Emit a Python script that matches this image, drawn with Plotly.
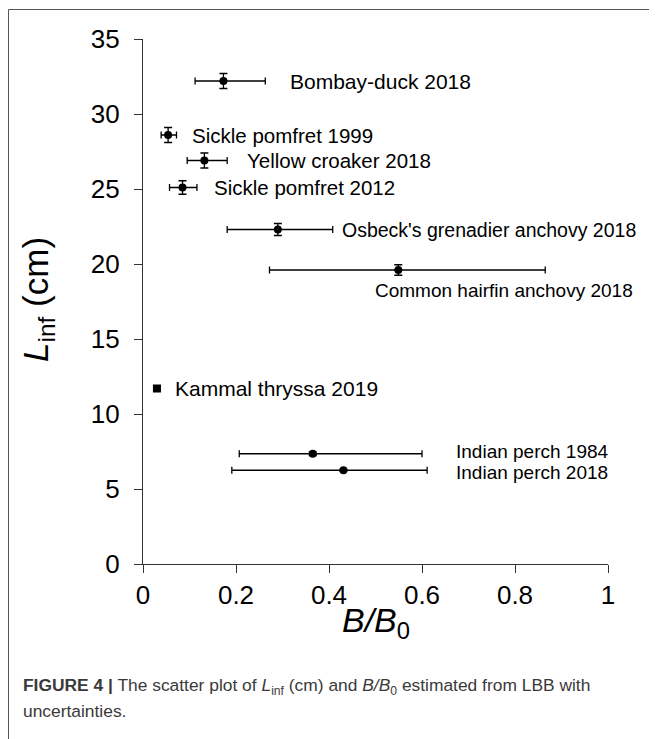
import plotly.graph_objects as go

# ---- data ----
species = ["Bombay-duck 2018", "Sickle pomfret 1999", "Yellow croaker 2018",
           "Sickle pomfret 2012", "Osbeck's grenadier anchovy 2018",
           "Common hairfin anchovy 2018", "Kammal thryssa 2019",
           "Indian perch 1984", "Indian perch 2018"]
b_b0 = [0.173, 0.054, 0.132, 0.085, 0.290, 0.549, 0.030, 0.365, 0.431]
b_b0_low = [0.112, 0.039, 0.095, 0.057, 0.181, 0.272, 0.028, 0.207, 0.191]
b_b0_high = [0.263, 0.072, 0.181, 0.116, 0.408, 0.865, 0.032, 0.600, 0.611]
l_inf = [32.2, 28.6, 26.9, 25.1, 22.3, 19.6, 11.7, 7.35, 6.25]
l_inf_err = [0.5, 0.5, 0.5, 0.45, 0.4, 0.35, 0.1, 0.12, 0.05]
x_ticks = [0, 0.2, 0.4, 0.6, 0.8, 1]
x_tick_text = ["0", "0.2", "0.4", "0.6", "0.8", "1"]
y_ticks = [0, 5, 10, 15, 20, 25, 30, 35]

# label anchor positions (data units) and label font sizes (style)
label_x = [0.312, 0.102, 0.220, 0.149, 0.424, 0.495, 0.065, 0.669, 0.669]
label_y = [32.2, 28.6, 26.9, 25.1, 22.3, 18.25, 11.7, 7.48, 6.1]
label_size = [21, 20.5, 20.5, 20.5, 19.5, 19, 21, 19, 19]

OFF = 8  # page body margin
W, H = 649, 731
L, R, T, B = 135, 49, 31, 175
pw, ph = W - L - R, H - T - B


def px_x(px):
    return (px - OFF - L) / pw


def px_y(py):
    return (H - B - (py - OFF)) / ph


FONT = "Liberation Sans, Arial, sans-serif"

fig = go.Figure()

markers = ["square" if s.startswith("Kammal") else "circle" for s in species]

fig.add_trace(go.Scatter(
    x=b_b0, y=l_inf, mode="markers",
    marker=dict(color="black", size=8, symbol=markers),
    error_x=dict(type="data", symmetric=False,
                 array=[h - v for h, v in zip(b_b0_high, b_b0)],
                 arrayminus=[v - lo for v, lo in zip(b_b0, b_b0_low)],
                 color="black", thickness=1.3, width=3.5),
    error_y=dict(type="data", array=l_inf_err, color="black",
                 thickness=1.3, width=4),
    showlegend=False, hoverinfo="skip"))

annotations = []
for name, lx, ly, fs in zip(species, label_x, label_y, label_size):
    annotations.append(dict(x=lx, y=ly, xref="x", yref="y", text=name,
                            showarrow=False, xanchor="left", yanchor="middle",
                            font=dict(family=FONT, size=fs, color="black")))

# axis titles
annotations.append(dict(x=px_x(376), y=px_y(622), xref="paper", yref="paper",
                        text="<i>B/B</i><sub>0</sub>", showarrow=False,
                        xanchor="center", yanchor="middle",
                        font=dict(family=FONT, size=34, color="black")))
annotations.append(dict(x=px_x(38), y=px_y(300), xref="paper", yref="paper",
                        text="<i>L</i><sub>inf</sub> (cm)", showarrow=False,
                        textangle=-90, xanchor="center", yanchor="middle",
                        font=dict(family=FONT, size=35, color="black")))
# caption
CAP_FONT = dict(family="Liberation Sans Narrow, Arial Narrow, Liberation Sans, sans-serif",
                size=17.4, color="#3a3a3a")
annotations.append(dict(x=px_x(21), y=px_y(686), xref="paper", yref="paper",
                        text="<b>FIGURE 4 |</b> The scatter plot of <i>L</i><sub>inf</sub> (cm) and "
                             "<i>B/B</i><sub>0</sub> estimated from LBB with",
                        showarrow=False, xanchor="left", yanchor="middle", align="left",
                        font=CAP_FONT))
annotations.append(dict(x=px_x(21), y=px_y(711), xref="paper", yref="paper",
                        text="uncertainties.",
                        showarrow=False, xanchor="left", yanchor="middle", align="left",
                        font=CAP_FONT))

shapes = [
    dict(type="line", xref="paper", yref="paper", x0=px_x(8.5), x1=px_x(OFF + W + 2),
         y0=px_y(9.5), y1=px_y(9.5), line=dict(color="#555555", width=1)),
    dict(type="line", xref="paper", yref="paper", x0=px_x(8.5), x1=px_x(8.5),
         y0=px_y(9.5), y1=px_y(OFF + H + 2), line=dict(color="#555555", width=1)),
]

fig.update_layout(
    width=W, height=H, margin=dict(l=L, r=R, t=T, b=B),
    paper_bgcolor="white", plot_bgcolor="white",
    font=dict(family=FONT, color="black"),
    annotations=annotations, shapes=shapes,
    xaxis=dict(range=[0, 1], tickvals=x_ticks, ticktext=x_tick_text,
               showline=True, linecolor="#333333", linewidth=1.2,
               ticks="outside", ticklen=8, tickcolor="#333333", tickwidth=1.2,
               showgrid=False, zeroline=False,
               tickfont=dict(family=FONT, size=26, color="black")),
    yaxis=dict(range=[0, 35], tickvals=y_ticks,
               showline=True, linecolor="#333333", linewidth=1.2,
               ticks="outside", ticklen=8, tickcolor="#333333", tickwidth=1.2,
               ticklabelstandoff=9,
               showgrid=False, zeroline=False,
               tickfont=dict(family=FONT, size=26, color="black")),
)

fig.write_html("out.html")
